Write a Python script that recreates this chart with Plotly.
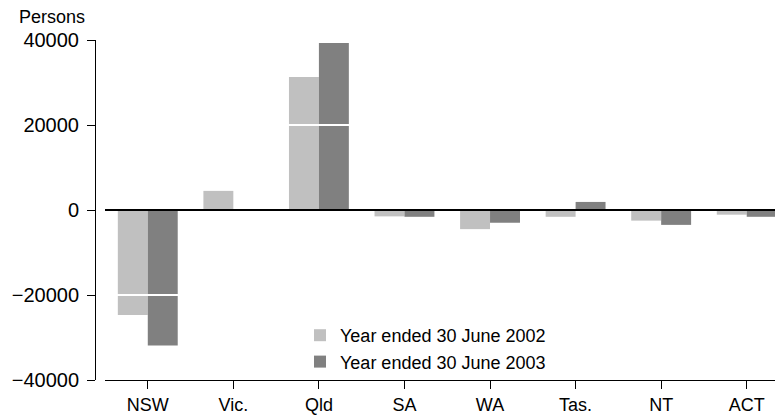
import plotly.graph_objects as go

states = ["NSW", "Vic.", "Qld", "SA", "WA", "Tas.", "NT", "ACT"]
year_2002 = [-24700, 4500, 31300, -1500, -4500, -1600, -2500, -1100]
year_2003 = [-31900, 0, 39300, -1600, -3000, 1900, -3500, -1600]
y_ticks = [-40000, -20000, 0, 20000, 40000]
grid_vals = [-20000, 20000]

FONT = "Liberation Sans, Arial, sans-serif"

fig = go.Figure()
fig.add_trace(go.Bar(x=states, y=year_2002, name="Year ended 30 June 2002",
                     marker=dict(color="#c0c0c0", line=dict(width=0))))
fig.add_trace(go.Bar(x=states, y=year_2003, name="Year ended 30 June 2003",
                     marker=dict(color="#808080", line=dict(width=0))))

# page body has an 8px margin; figure coordinates are page coordinates minus 8
W, H = 775, 411
L, R, T, B = 87, 0, 32, 39
plot_w = W - L - R
plot_h = H - T - B

shapes = []
for g in grid_vals:
    shapes.append(dict(type="line", xref="x domain", yref="y", x0=0, x1=1, y0=g, y1=g,
                       line=dict(color="white", width=2), layer="above"))
shapes.append(dict(type="line", xref="x domain", yref="y", x0=0, x1=1, y0=0, y1=0,
                   line=dict(color="black", width=2), layer="above"))

fig.update_layout(
    width=W, height=H,
    margin=dict(l=L, r=R, t=T, b=B, pad=0),
    paper_bgcolor="white", plot_bgcolor="white",
    font=dict(family=FONT, size=18, color="black"),
    barmode="group", bargap=0.3, bargroupgap=0,
    showlegend=True,
    legend=dict(x=(292 - L) / plot_w, y=(plot_h - (317 - 8 - T)) / plot_h,
                xanchor="left", yanchor="top",
                bgcolor="rgba(0,0,0,0)", font=dict(size=18), traceorder="normal"),
    xaxis=dict(domain=[10 / plot_w, 1], range=[-0.5, 7.424], showline=True,
               linecolor="black", linewidth=1, ticks="outside", ticklen=8,
               tickcolor="black", showgrid=False, zeroline=False,
               tickfont=dict(size=18)),
    yaxis=dict(range=[-40000, 40000], tickvals=y_ticks,
               ticktext=[("\u2212" + str(abs(v))) if v < 0 else str(v) for v in y_ticks],
               anchor="free", position=0, showline=True, linecolor="black",
               linewidth=1, ticks="outside", ticklen=8, tickcolor="black",
               showgrid=False, zeroline=False, tickfont=dict(size=20),
               ticklabelstandoff=4),
    shapes=shapes,
    annotations=[dict(text="Persons", xref="paper", yref="paper",
                      x=(9 - L) / plot_w, y=1 + 23 / plot_h, xanchor="left", yanchor="middle",
                      showarrow=False, font=dict(size=18))],
)

fig.write_html("out.html")
